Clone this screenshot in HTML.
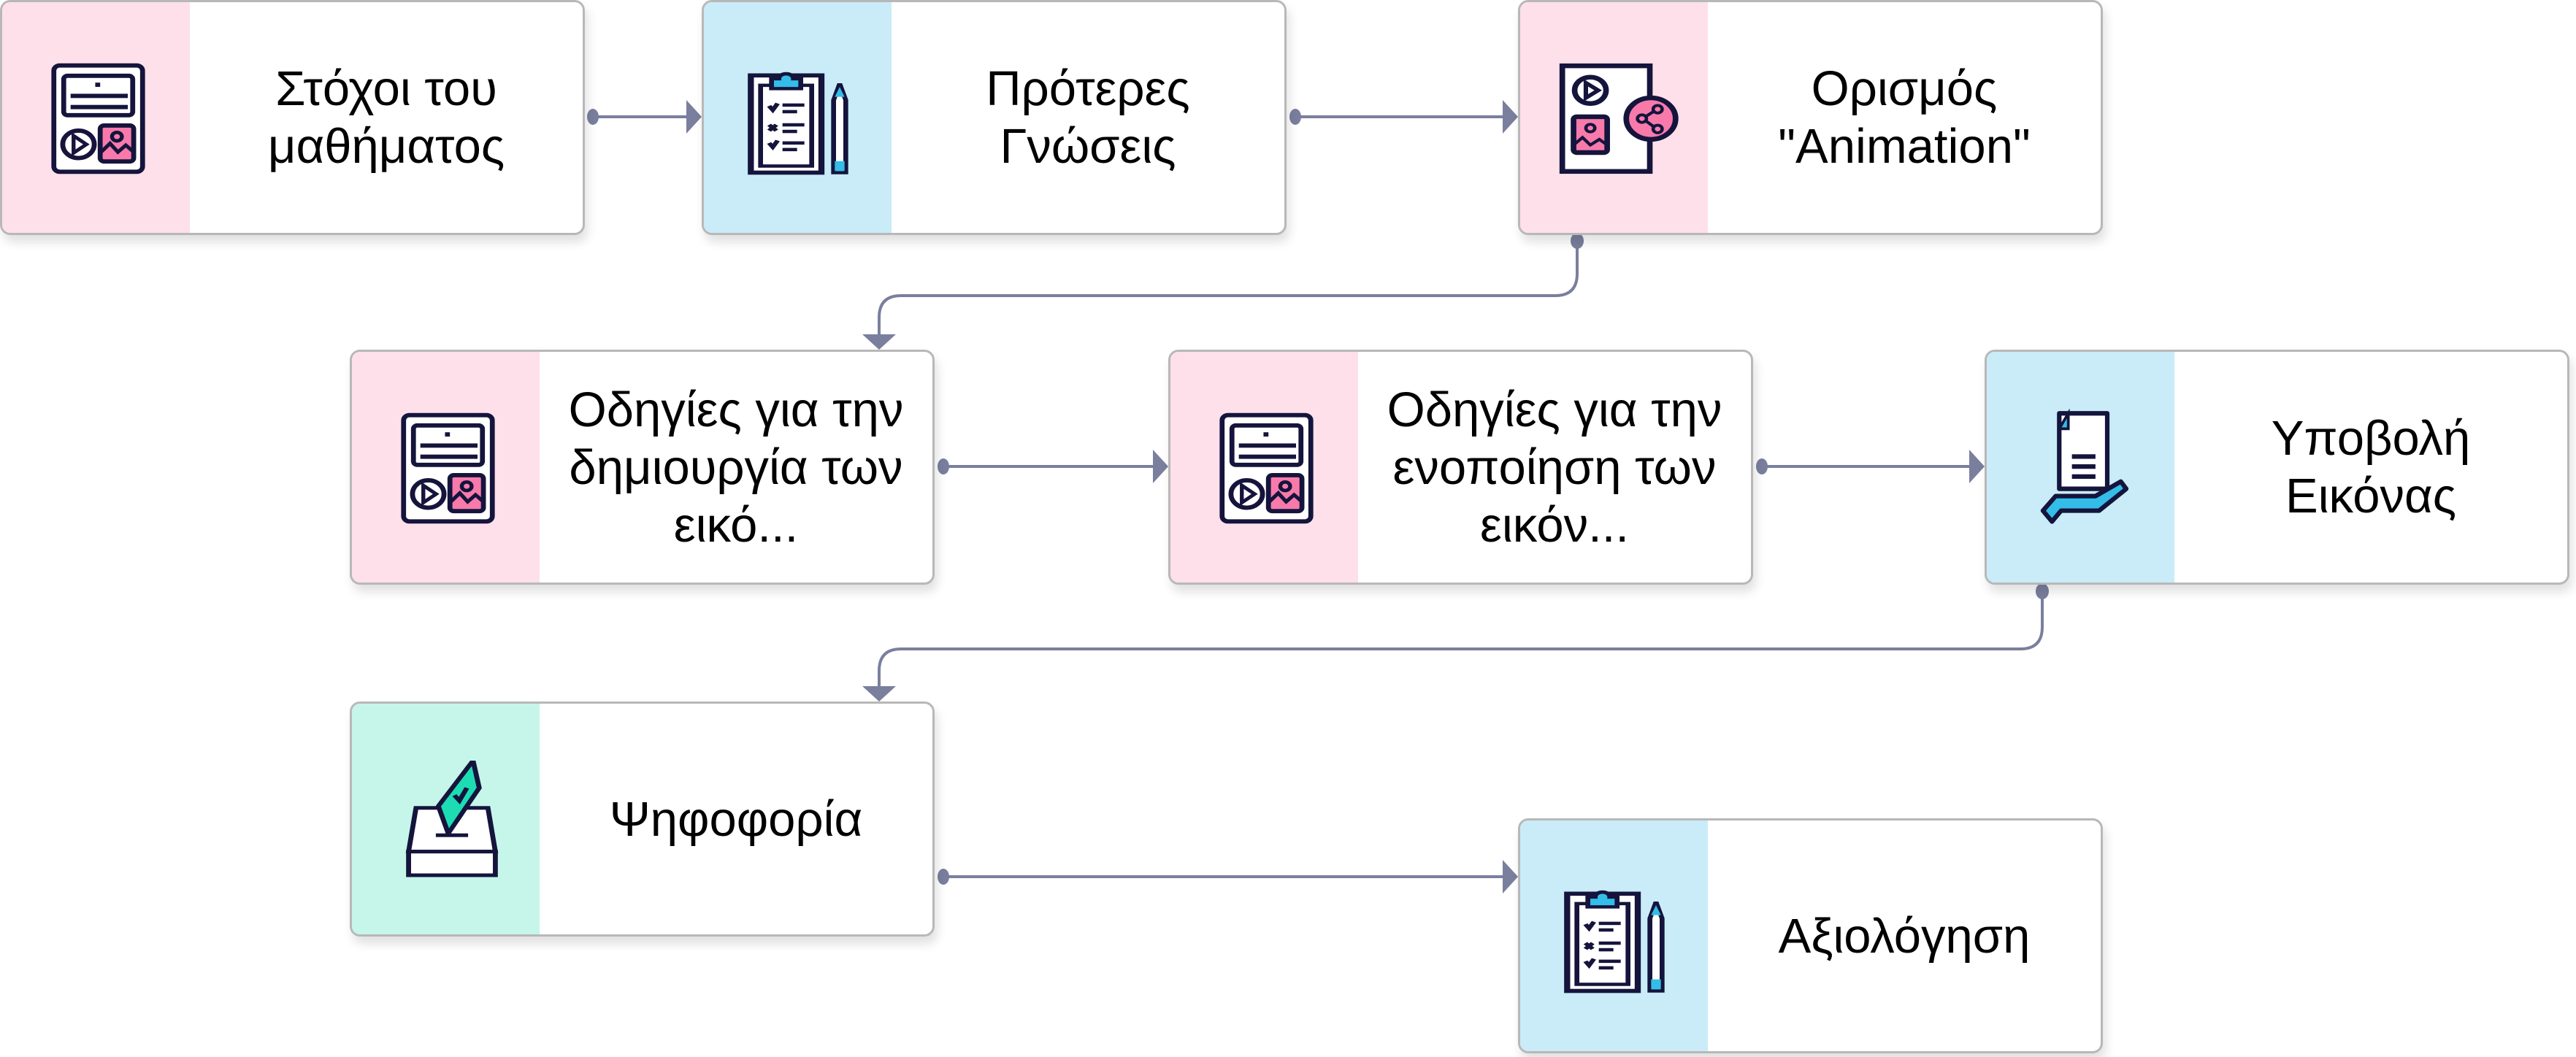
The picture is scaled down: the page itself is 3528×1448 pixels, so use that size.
<!DOCTYPE html>
<html><head><meta charset="utf-8"><style>
html,body{margin:0;padding:0;background:#fff;}
body{width:3528px;height:1448px;position:relative;overflow:hidden;font-family:"Liberation Sans",sans-serif;}
.n{position:absolute;width:795px;height:316px;border:3px solid #b8b8b8;border-radius:14px;background:#fff;overflow:hidden;box-shadow:4px 10px 14px rgba(0,0,0,0.12);}
.b{position:absolute;left:0;top:0;width:257px;height:100%;}
.pink{background:#fde0ea}.blue{background:#c9ecf8}.green{background:#c6f5ea}
.t{position:absolute;left:257px;right:0;top:0;bottom:0;display:flex;align-items:center;justify-content:center;text-align:center;font-size:67px;line-height:79px;color:#000;}
.ic{position:absolute;}
svg.c{position:absolute;left:0;top:0;}
</style></head><body>

<svg style="display:none"><defs>
<g id="media">
<rect x="5" y="4" width="90" height="124" rx="6" fill="#fff" stroke="#14143c" stroke-width="5"/>
<rect x="15" y="16" width="70" height="46" rx="4" fill="#fff" stroke="#14143c" stroke-width="5"/>
<rect x="47" y="24" width="5" height="5" fill="#14143c"/>
<rect x="22" y="37" width="58" height="5" fill="#14143c"/><rect x="22" y="50" width="58" height="5" fill="#14143c"/>
<ellipse cx="30" cy="96" rx="16" ry="16" fill="#fff" stroke="#14143c" stroke-width="5"/>
<path d="M25 86 L38 96 L25 106Z" fill="none" stroke="#14143c" stroke-width="4"/>
<rect x="52" y="74" width="34" height="42" rx="4" fill="#f77aab" stroke="#14143c" stroke-width="5"/>
<circle cx="69" cy="87" r="5" fill="none" stroke="#14143c" stroke-width="4"/>
<path d="M52 106 L62 95 L70 105 L78 97 L86 105" fill="none" stroke="#14143c" stroke-width="4"/>
</g>
<g id="clip">
<rect x="5" y="18" width="58" height="118" fill="#fff" stroke="#14143c" stroke-width="5"/>
<rect x="13" y="30" width="42" height="98" fill="#fff" stroke="#14143c" stroke-width="4"/>
<path d="M22 34 V22 H28 A6 6 0 0 1 40 22 H46 V34Z" fill="#33bde8" stroke="#14143c" stroke-width="4"/>
<path d="M20 55 l3 5 l4 -8" stroke="#14143c" stroke-width="4" fill="none"/>
<rect x="31" y="52" width="18" height="4" fill="#14143c"/><rect x="31" y="60" width="12" height="4" fill="#14143c"/>
<path d="M20 78 l6 7 M26 78 l-6 7" stroke="#14143c" stroke-width="4"/>
<rect x="31" y="76" width="18" height="4" fill="#14143c"/><rect x="31" y="84" width="12" height="4" fill="#14143c"/>
<path d="M20 100 l3 5 l4 -8" stroke="#14143c" stroke-width="4" fill="none"/>
<rect x="31" y="98" width="18" height="4" fill="#14143c"/><rect x="31" y="106" width="12" height="4" fill="#14143c"/>
<path d="M73 48 L78 28 L83 48 V136 H73Z" fill="#fff" stroke="#14143c" stroke-width="4"/>
<path d="M74 44 L78 32 L82 44Z" fill="#33bde8"/><rect x="74" y="122" width="8" height="12" fill="#33bde8"/>
</g>
</defs></svg>

<svg class="c" width="3528" height="1448">
<g stroke="#7a7f9e" stroke-width="4" fill="none">
<line x1="812" y1="160" x2="945" y2="160"/>
<line x1="1774" y1="160" x2="2063" y2="160"/>
<path d="M2160 330 V375 Q2160 405 2130 405 H1234 Q1204 405 1204 435 V463"/>
<line x1="1292" y1="639" x2="1584" y2="639"/>
<line x1="2413" y1="639" x2="2702" y2="639"/>
<path d="M2797 810 V859 Q2797 889 2767 889 H1234 Q1204 889 1204 919 V945"/>
<line x1="1292" y1="1201" x2="2063" y2="1201"/>
</g>
<g fill="#7a7f9e">
<ellipse cx="812" cy="160" rx="8" ry="11"/><path d="M940 137 L961 160 L940 183Z"/>
<ellipse cx="1774" cy="160" rx="8" ry="11"/><path d="M2058 137 L2079 160 L2058 183Z"/>
<ellipse cx="2160" cy="330" rx="9" ry="11"/><path d="M1181 458 L1204 479 L1227 458Z"/>
<ellipse cx="1292" cy="639" rx="8" ry="11"/><path d="M1579 616 L1600 639 L1579 662Z"/>
<ellipse cx="2413" cy="639" rx="8" ry="11"/><path d="M2697 616 L2718 639 L2697 662Z"/>
<ellipse cx="2797" cy="810" rx="9" ry="11"/><path d="M1181 940 L1204 961 L1227 940Z"/>
<ellipse cx="1292" cy="1201" rx="8" ry="11"/><path d="M2058 1178 L2079 1201 L2058 1224Z"/>
</g>
</svg>

<div class="n" style="left:0;top:0"><div class="b pink"></div>
<svg class="ic" viewBox="0 0 100 132" preserveAspectRatio="none" style="left:64px;top:82px;width:135px;height:155px"><use href="#media"/></svg>
<div class="t">Στόχοι του<br>μαθήματος</div></div>

<div class="n" style="left:961px;top:0"><div class="b blue"></div>
<svg class="ic" viewBox="0 0 90 140" preserveAspectRatio="none" style="left:56px;top:80px;width:150px;height:158px"><use href="#clip"/></svg>
<div class="t">Πρότερες<br>Γνώσεις</div></div>

<div class="n" style="left:2079px;top:0"><div class="b pink"></div>
<svg class="ic" viewBox="0 0 110 120" preserveAspectRatio="none" style="left:50px;top:82px;width:169px;height:155px">
<rect x="5" y="4" width="78" height="112" fill="#fff" stroke="#14143c" stroke-width="5"/>
<circle cx="30" cy="30" r="14" fill="#fff" stroke="#14143c" stroke-width="5"/>
<path d="M26 22 L37 30 L26 38Z" fill="none" stroke="#14143c" stroke-width="4"/>
<rect x="15" y="58" width="30" height="38" rx="3" fill="#f77aab" stroke="#14143c" stroke-width="5"/>
<circle cx="30" cy="70" r="4" fill="none" stroke="#14143c" stroke-width="3"/>
<path d="M15 88 L23 80 L30 88 L38 82 L45 88" fill="none" stroke="#14143c" stroke-width="3"/>
<circle cx="84" cy="60" r="22" fill="#f77aab" stroke="#14143c" stroke-width="5"/>
<circle cx="76" cy="60" r="4" fill="none" stroke="#14143c" stroke-width="3"/><circle cx="90" cy="50" r="4" fill="none" stroke="#14143c" stroke-width="3"/><circle cx="90" cy="71" r="4" fill="none" stroke="#14143c" stroke-width="3"/>
<path d="M79 58 L87 52 M79 62 L87 69" stroke="#14143c" stroke-width="3"/>
</svg>
<div class="t">Ορισμός<br>"Animation"</div></div>

<div class="n" style="left:479px;top:479px"><div class="b pink"></div>
<svg class="ic" viewBox="0 0 100 132" preserveAspectRatio="none" style="left:64px;top:82px;width:135px;height:155px"><use href="#media"/></svg>
<div class="t">Οδηγίες για την<br>δημιουργία των<br>εικό...</div></div>

<div class="n" style="left:1600px;top:479px"><div class="b pink"></div>
<svg class="ic" viewBox="0 0 100 132" preserveAspectRatio="none" style="left:64px;top:82px;width:135px;height:155px"><use href="#media"/></svg>
<div class="t">Οδηγίες για την<br>ενοποίηση των<br>εικόν...</div></div>

<div class="n" style="left:2718px;top:479px"><div class="b blue"></div>
<svg class="ic" viewBox="0 0 100 130" preserveAspectRatio="none" style="left:72px;top:78px;width:124px;height:162px">
<path d="M22 5 H75 V88 H22 V22Z" fill="#fff" stroke="#14143c" stroke-width="5" stroke-linejoin="round"/>
<path d="M22 22 L32 5 V22Z" fill="#33bde8" stroke="#14143c" stroke-width="3"/>
<rect x="36" y="50" width="26" height="5" fill="#14143c"/><rect x="36" y="61" width="26" height="5" fill="#14143c"/><rect x="36" y="72" width="26" height="5" fill="#14143c"/>
<path d="M4 112 L18 96 H62 L90 80 L96 88 L66 112 H24 L14 124Z" fill="#33bde8" stroke="#14143c" stroke-width="5" stroke-linejoin="round"/>
</svg>
<div class="t">Υποβολή<br>Εικόνας</div></div>

<div class="n" style="left:479px;top:961px"><div class="b green"></div>
<svg class="ic" viewBox="0 0 86 130" preserveAspectRatio="none" style="left:64px;top:78px;width:146px;height:162px">
<path d="M14 52 H72 L78 100 H8Z" fill="#fff" stroke="#14143c" stroke-width="4"/>
<rect x="8" y="100" width="70" height="26" fill="#fff" stroke="#14143c" stroke-width="4"/>
<path d="M40 80 L32 50 L60 0 L65 30Z" fill="#1ddcb4" stroke="#14143c" stroke-width="4" stroke-linejoin="round"/>
<path d="M45 38 l4 6 l6 -14" stroke="#14143c" stroke-width="4" fill="none"/>
<rect x="30" y="80" width="26" height="4" fill="#14143c"/>
</svg>
<div class="t">Ψηφοφορία</div></div>

<div class="n" style="left:2079px;top:1121px"><div class="b blue"></div>
<svg class="ic" viewBox="0 0 90 140" preserveAspectRatio="none" style="left:56px;top:80px;width:150px;height:158px"><use href="#clip"/></svg>
<div class="t">Αξιολόγηση</div></div>

</body></html>
